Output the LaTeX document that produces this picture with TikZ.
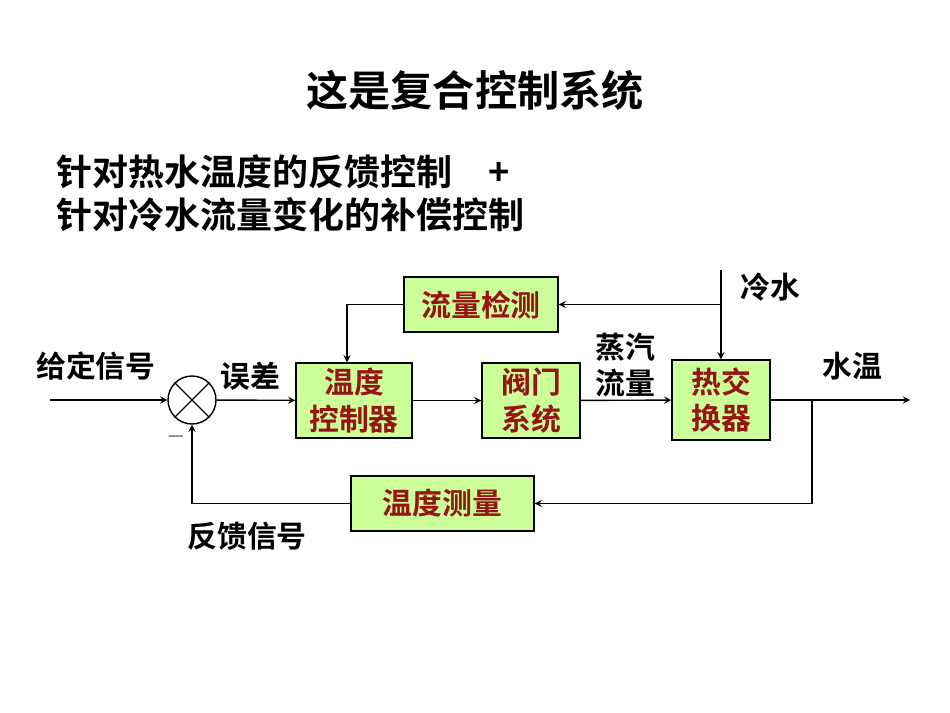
\documentclass[tikz,border=0pt]{standalone}
\usepackage{fontspec}
\newfontfamily\cjk{Noto Sans CJK SC Bold}
\usetikzlibrary{positioning}
\definecolor{boxfill}{RGB}{204,255,153}
\definecolor{boxtext}{RGB}{150,20,20}
\begin{document}
\begin{tikzpicture}[x=0.02cm,y=-0.02cm,>=stealth,thick]
    \tikzset{block/.style={draw, fill=boxfill, minimum height=1.1cm, align=center, font=\cjk\fontsize{17}{21}\selectfont, text=boxtext, inner sep=0pt},
             lbl/.style={font=\cjk\fontsize{17}{21}\selectfont, align=center}}
    \useasboundingbox (0,0) rectangle (950,713);
    \node[font=\cjk\fontsize{24}{28}\selectfont] (title) at (475,90) {这是复合控制系统};
    \node[font=\cjk\fontsize{20.5}{25}\selectfont, anchor=west] (sub1) at (50,172) {针对热水温度的反馈控制\quad +};
    \node[font=\cjk\fontsize{20.5}{25}\selectfont, anchor=west] (sub2) at (50,215) {针对冷水流量变化的补偿控制};
    % blocks
    \node[block, minimum width=3.08cm] (detect) at (481,304.5) {流量检测};
    \node[block, minimum width=2.32cm, minimum height=1.5cm] (ctrl) at (354,400.5) {温度\\控制器};
    \node[block, minimum width=1.96cm, minimum height=1.5cm] (valve) at (531,400.5) {阀门\\系统};
    \node[block, minimum width=1.96cm, minimum height=1.6cm] (hx) at (721,400) {热交\\换器};
    \node[block, minimum width=3.66cm] (meas) at (442.5,503.5) {温度测量};
    \node[draw, circle, minimum size=0.96cm, thick] (sum) at (192,400) {};
    \draw (sum.north west) -- (sum.south east) (sum.north east) -- (sum.south west);
    % points
    \coordinate (in) at (50,400);
    \coordinate (out) at (910,400);
    \coordinate (tap) at (812,400);
    \coordinate (cold) at (721,270);
    \coordinate (coldtap) at (721,304.5);
    % connectors
    \draw[->] (in) -- (sum);
    \draw[->] (sum) -- (ctrl);
    \draw[->] (ctrl) -- (valve);
    \draw[->] (valve) -- (hx);
    \draw[->] (hx) -- (out);
    \draw[->] (tap) |- (meas);
    \draw[->] (meas) -| (sum);
    \draw[->] (cold) -- (hx);
    \draw[->] (coldtap) -- (detect);
    \draw[->] (detect) -| (ctrl.north -| 347,0);
    % labels
    \node[lbl] (lin) at (96,366) {给定信号};
    \node[lbl] (lerr) at (250,376) {误差};
    \node[lbl] (lsteam) at (625,365) {蒸汽\\流量};
    \node[lbl] (lcold) at (770,287) {冷水};
    \node[lbl] (lout) at (852,366) {水温};
    \node[lbl] (lfb) at (247,536) {反馈信号};
    \node[font=\bfseries\Large] (minus) at (176,440) {--};
\end{tikzpicture}
\end{document}
